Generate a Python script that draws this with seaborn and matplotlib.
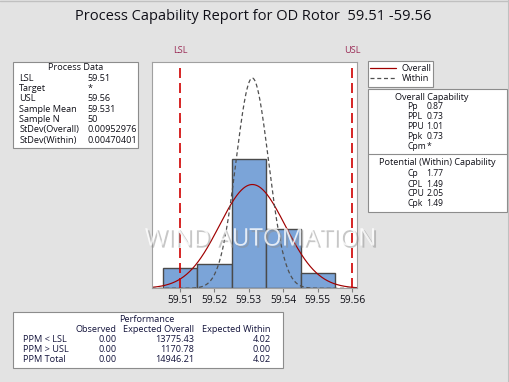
import numpy as np
import pandas as pd
import matplotlib
matplotlib.use("Agg")
import matplotlib.pyplot as plt
import matplotlib.patheffects as pe
from matplotlib.patches import Rectangle
import seaborn as sns

# ---------------- data ----------------
bin_centers = [59.51, 59.52, 59.53, 59.54, 59.55]
bin_counts = [4, 5, 26, 12, 3]
lsl = 59.51
usl = 59.56
sample_mean = 59.531
sample_n = 50
sd_overall = 0.00952976
sd_within = 0.00470401
tick_values = [59.51, 59.52, 59.53, 59.54, 59.55, 59.56]
tick_labels = ["59.51", "59.52", "59.53", "59.54", "59.55", "59.56"]

process_labels = ["LSL", "Target", "USL", "Sample Mean", "Sample N", "StDev(Overall)", "StDev(Within)"]
process_values = ["59.51", "*", "59.56", "59.531", "50", "0.00952976", "0.00470401"]

overall_labels = ["Pp", "PPL", "PPU", "Ppk", "Cpm"]
overall_values = ["0.87", "0.73", "1.01", "0.73", "*"]
within_labels = ["Cp", "CPL", "CPU", "Cpk"]
within_values = ["1.77", "1.49", "2.05", "1.49"]

perf_rows = ["PPM < LSL", "PPM > USL", "PPM Total"]
perf_headers = ["Observed", "Expected Overall", "Expected Within"]
perf_observed = ["0.00", "0.00", "0.00"]
perf_overall = ["13775.43", "1170.78", "14946.21"]
perf_within = ["4.02", "0.00", "4.02"]

title = "Process Capability Report for OD Rotor  59.51 -59.56"

# ---------------- figure ----------------
sns.set_theme(style="white")
FONT = ["Open Sans", "DejaVu Sans"]
plt.rcParams["font.family"] = FONT

W, H = 510, 382
fig = plt.figure(figsize=(W / 100, H / 100), dpi=100)
fig.patch.set_facecolor("#e3e3e3")


def fx(x):
    return x / W


def fy(y):
    return 1 - y / H


TXT = "#101018"
FS = 6.6

# main axes
ax = fig.add_axes([fx(151.7), fy(288.3), fx(356.7) - fx(151.7), fy(61.7) - fy(288.3)])
ax.set_facecolor("white")

binw = bin_centers[1] - bin_centers[0]
edges = [c - binw / 2 for c in bin_centers] + [bin_centers[-1] + binw / 2]
df = pd.DataFrame({"value": bin_centers, "count": bin_counts})
sns.histplot(data=df, x="value", weights="count", bins=edges, ax=ax,
             color="#7ba4d8", edgecolor="#4a4a4a", linewidth=1.0, alpha=1.0)

xmin, xmax = 59.5018, 59.5613
xs = np.linspace(xmin, xmax, 500)
scale = sample_n * binw


def npdf(x, m, s):
    return np.exp(-0.5 * ((x - m) / s) ** 2) / (s * np.sqrt(2 * np.pi))


curves = pd.DataFrame({"x": xs,
                       "overall": npdf(xs, sample_mean, sd_overall) * scale,
                       "within": npdf(xs, sample_mean, sd_within) * scale})
sns.lineplot(data=curves, x="x", y="overall", ax=ax, color="#a00000", linewidth=0.85)
sns.lineplot(data=curves, x="x", y="within", ax=ax, color="#505050", linewidth=0.9,
             linestyle=(0, (3.2, 2.2)))

for v in (lsl, usl):
    ax.axvline(v, color="#d00000", linewidth=1.2, linestyle=(0, (6, 3)))

ax.set_xlim(xmin, xmax)
ax.set_ylim(0, 45.7)
ax.set_xticks(tick_values)
ax.set_xticklabels(tick_labels, fontsize=7.4, color=TXT)
ax.set_yticks([])
ax.set_xlabel("")
ax.set_ylabel("")
ax.tick_params(axis="x", length=3, width=0.8, color="#808080", pad=2, bottom=True)
for sp in ax.spines.values():
    sp.set_color("#a0a0a0")
    sp.set_linewidth(0.8)

# LSL/USL labels
for v, lab in ((lsl, "LSL"), (usl, "USL")):
    ax.text(v, 1.0 + 7 / 226.6, lab, transform=ax.get_xaxis_transform(), ha="center", va="bottom",
            fontsize=6.6, color="#9a2a55")

# watermark
ax.text(0.53, 0.215, "WIND AUTOMATION", transform=ax.transAxes, ha="center", va="center",
        fontsize=17.5, color="white", alpha=0.8, clip_on=False,
        path_effects=[pe.withSimplePatchShadow(offset=(1.5, -1.5), shadow_rgbFace="#909090", alpha=0.5)])

# title
fig.text(fx(253.5), fy(16), title, ha="center", va="center", fontsize=10.5, color=TXT)


def box(x0, y0, x1, y1):
    fig.patches.append(Rectangle((fx(x0), fy(y1)), fx(x1) - fx(x0), fy(y0) - fy(y1),
                                 transform=fig.transFigure, facecolor="white",
                                 edgecolor="#8c8c8c", linewidth=0.8))


def t(x, y, s, ha="left", color=TXT, fs=FS):
    fig.text(fx(x), fy(y), s, ha=ha, va="center", fontsize=fs, color=color)


# Process data box
box(12.7, 62.3, 138.3, 147.7)
t(75.5, 67.3, "Process Data", ha="center")
for i, (lab, val) in enumerate(zip(process_labels, process_values)):
    yy = 78.3 + i * 10.3
    t(19.3, yy, lab)
    t(87.3, yy, val)

# legend box
box(368.3, 60.7, 433, 86.7)
fig.lines.append(plt.Line2D([fx(370), fx(396)], [fy(68.3), fy(68.3)], transform=fig.transFigure,
                            color="#a00000", linewidth=0.9))
fig.lines.append(plt.Line2D([fx(370), fx(396)], [fy(78.3), fy(78.3)], transform=fig.transFigure,
                            color="#505050", linewidth=0.9, linestyle=(0, (3.2, 2.2))))
t(401.7, 68.3, "Overall")
t(401.7, 78.3, "Within")

# capability box
box(368.3, 89.3, 507.5, 211.7)
fig.lines.append(plt.Line2D([fx(368.3), fx(507.5)], [fy(154.3), fy(154.3)], transform=fig.transFigure,
                            color="#8c8c8c", linewidth=0.8))
t(432, 97.7, "Overall Capability", ha="center")
CFS = 6.2
for i, (lab, val) in enumerate(zip(overall_labels, overall_values)):
    yy = 106.7 + i * 10
    t(407, yy, lab, fs=CFS)
    t(426.5, yy, val, fs=CFS)
t(437.5, 162.3, "Potential (Within) Capability", ha="center")
for i, (lab, val) in enumerate(zip(within_labels, within_values)):
    yy = 174 + i * 10
    t(407, yy, lab, fs=CFS)
    t(426.5, yy, val, fs=CFS)

# performance box
PT = "#14143c"
box(12.7, 312.3, 283.3, 368.3)
t(146.7, 320, "Performance", ha="center", color=PT)
col_x = [116.7, 194.3, 270.7]
for cx, hdr in zip(col_x, perf_headers):
    t(cx, 330, hdr, ha="right", color=PT)
for i, row in enumerate(perf_rows):
    yy = 339.3 + i * 10
    t(23.3, yy, row, color=PT)
    for cx, col in zip(col_x, (perf_observed, perf_overall, perf_within)):
        t(cx, yy, col[i], ha="right", color=PT)

# outer border lines (top and right)
fig.lines.append(plt.Line2D([0, 1], [fy(0.5), fy(0.5)], transform=fig.transFigure, color="#c0c0c0", linewidth=1))
fig.lines.append(plt.Line2D([fx(509), fx(509)], [0, 1], transform=fig.transFigure, color="#c0c0c0", linewidth=1.5))

fig.savefig("out.png", dpi=100, facecolor=fig.get_facecolor())
